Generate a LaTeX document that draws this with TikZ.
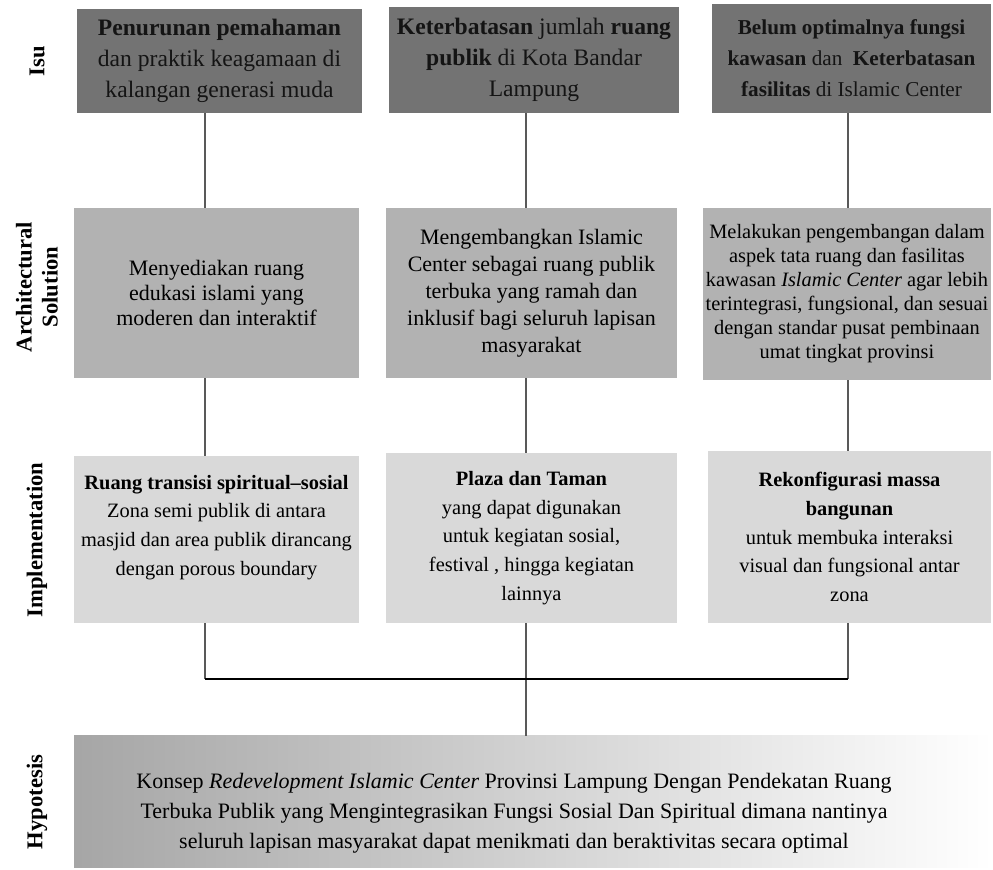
\documentclass[tikz,border=0pt]{standalone}
\usepackage{fontspec}
\setmainfont{Liberation Serif}
\begin{document}
\begin{tikzpicture}[x=0.5pt, y=-0.5pt,
		cell/.style 2 args={inner sep=0pt, align=center, minimum width=#1*0.5pt, minimum height=#2*0.5pt},
		isu/.style={fill=black!55, text=black!92},
		sol/.style={fill=black!30},
		imp/.style={fill=black!15, font=\fontsize{10.2}{14.3}\selectfont},
		lab/.style={rotate=90, align=center, font=\fontsize{11.3}{13}\selectfont\bfseries},
		link/.style={draw=black!65, line width=0.75pt}]
	\useasboundingbox (0,0) rectangle (993,870);
	\coordinate (c1) at (205,0);
	\coordinate (c2) at (526,0);
	\coordinate (c3) at (848,0);
	\coordinate (bus) at (0,679);
	% labels
	\node[lab] (lisu) at (37,61) {Isu};
	\node[lab] (lsol) at (37,287) {Architectural\\Solution};
	\node[lab] (limp) at (37,540) {Implementation};
	\node[lab] (lhyp) at (37,802) {Hypotesis};
	% isu
	\node[cell={285}{104}, isu, font=\fontsize{11.8}{15.5}\selectfont] (i1) at (219.5,61)
		{\textbf{Penurunan pemahaman}\\dan praktik keagamaan di\\kalangan generasi muda};
	\node[cell={290}{106}, isu, font=\fontsize{11.8}{15.5}\selectfont] (i2) at (534,60)
		{\textbf{Keterbatasan} jumlah \textbf{ruang}\\\textbf{publik} di Kota Bandar\\Lampung};
	\node[cell={279}{109}, isu, font=\fontsize{10.6}{15.5}\selectfont] (i3) at (851.5,58.5)
		{\textbf{Belum optimalnya fungsi}\\\textbf{kawasan} dan\ \ \textbf{Keterbatasan}\\\textbf{fasilitas} di Islamic Center};
	% solution
	\node[cell={285}{170}, sol, font=\fontsize{11}{12.5}\selectfont] (s1) at (216.5,293)
		{Menyediakan ruang\\edukasi islami yang\\moderen dan interaktif};
	\node[cell={291}{170}, sol, font=\fontsize{11}{13.5}\selectfont] (s2) at (531.5,293)
		{Mengembangkan Islamic\\Center sebagai ruang publik\\terbuka yang ramah dan\\inklusif bagi seluruh lapisan\\masyarakat};
	\node[cell={288}{172}, sol, font=\fontsize{10.2}{12}\selectfont] (s3) at (847,294)
		{Melakukan pengembangan dalam\\aspek tata ruang dan fasilitas\\kawasan \textit{Islamic Center} agar lebih\\terintegrasi, fungsional, dan sesuai\\dengan standar pusat pembinaan\\umat tingkat provinsi};
	% implementation
	\node[cell={285}{167}, imp] (m1) at (216.5,539.5)
		{\textbf{Ruang transisi spiritual--sosial}\\Zona semi publik di antara\\masjid dan area publik dirancang\\dengan porous boundary\\\mbox{}};
	\node[cell={291}{170}, imp] (m2) at (531.5,538)
		{\textbf{Plaza dan Taman}\\yang dapat digunakan\\untuk kegiatan sosial,\\festival , hingga kegiatan\\lainnya};
	\node[cell={283}{172}, imp] (m3) at (849.5,537)
		{\textbf{Rekonfigurasi massa}\\\textbf{bangunan}\\untuk membuka interaksi\\visual dan fungsional antar\\zona};
	% hypotesis
	\node[cell={919}{132}, left color=black!35, right color=white] (h) at (533.5,802) {};
	\node[align=center, inner sep=0pt, font=\fontsize{11}{15}\selectfont] (ht) at (514,813)
		{Konsep \textit{Redevelopment Islamic Center} Provinsi Lampung Dengan Pendekatan Ruang\\Terbuka Publik yang Mengintegrasikan Fungsi Sosial Dan Spiritual dimana nantinya\\seluruh lapisan masyarakat dapat menikmati dan beraktivitas secara optimal};
	% connectors
	\draw[link] (i1.south -| c1) -- (s1.north -| c1);
	\draw[link] (i2.south -| c2) -- (s2.north -| c2);
	\draw[link] (i3.south -| c3) -- (s3.north -| c3);
	\draw[link] (s1.south -| c1) -- (m1.north -| c1);
	\draw[link] (s2.south -| c2) -- (m2.north -| c2);
	\draw[link] (s3.south -| c3) -- (m3.north -| c3);
	\draw[link] (m1.south -| c1) -- (c1 |- bus);
	\draw[link] (m3.south -| c3) -- (c3 |- bus);
	\draw[link] (m2.south -| c2) -- (h.north -| c2);
	\draw[line width=0.9pt] (c1 |- bus) -- (c3 |- bus);
\end{tikzpicture}
\end{document}
